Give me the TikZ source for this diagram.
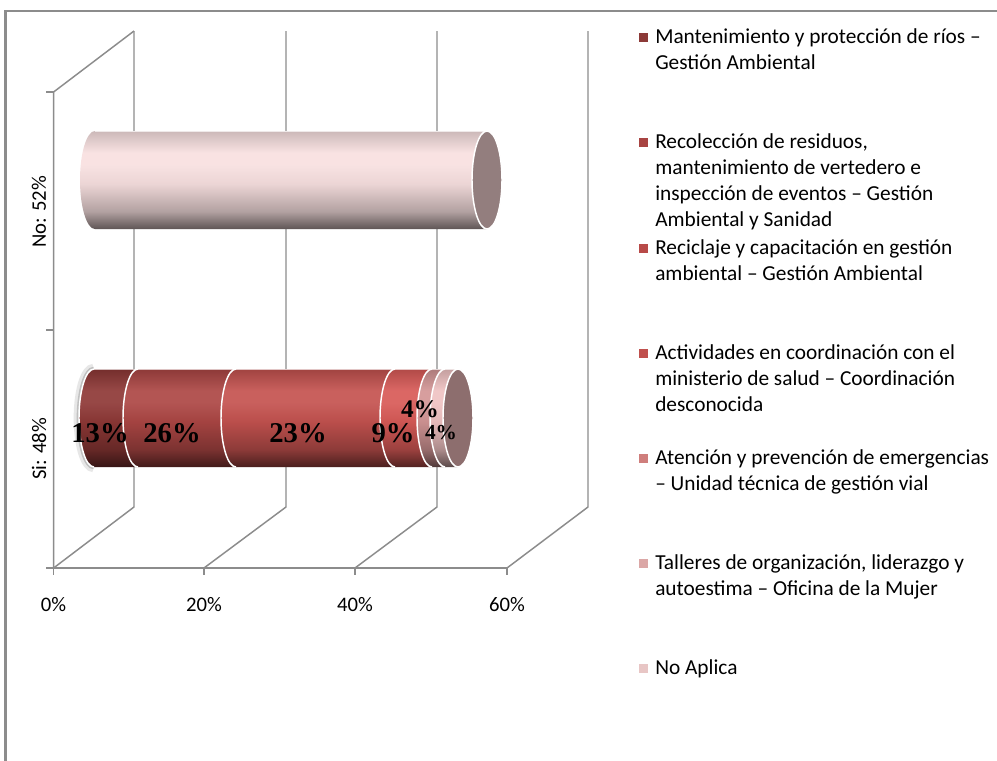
\documentclass[tikz,border=0pt]{standalone}
\usepackage{fontspec}
\setmainfont{Carlito}
\newfontfamily\labfont{Liberation Serif}
\definecolor{gridc}{HTML}{8C8C8C}
\definecolor{sA}{HTML}{8E3836}
\definecolor{sB}{HTML}{AC4644}
\definecolor{sC}{HTML}{C4524F}
\definecolor{sD}{HTML}{D85A57}
\definecolor{sE}{HTML}{D39696}
\definecolor{sF}{HTML}{EFC2C2}
\definecolor{sNo}{HTML}{F8E0E0}
\definecolor{capSi}{HTML}{8D6E6E}
\definecolor{capNo}{HTML}{937E7E}
\definecolor{lA}{HTML}{8C3A38}
\definecolor{lB}{HTML}{A84442}
\definecolor{lC}{HTML}{B84A48}
\definecolor{lD}{HTML}{C0504D}
\definecolor{lE}{HTML}{CF7E7C}
\definecolor{lF}{HTML}{DBA7A6}
\definecolor{lG}{HTML}{E8C6C5}
\colorlet{cylA}{black}\colorlet{cylB}{black}\colorlet{cylC}{black}\colorlet{cylD}{black}\colorlet{cylE}{black}
\pgfdeclareverticalshading[cylA,cylB,cylC,cylE,cylD]{cylshade}{100bp}{color(0bp)=(cylD); color(25bp)=(cylD); color(34bp)=(cylE); color(48bp)=(cylC); color(58bp)=(cylB); color(64bp)=(cylB); color(75bp)=(cylA); color(100bp)=(cylA)}
\newcommand\crx{11.25pt}
\newcommand\cry{36.75pt}
\newcommand\cylseg[4]{%
  \shade[cylcol=#4, shading=cylshade] (#1,#3-49) arc[start angle=90,end angle=270,x radius=\crx,y radius=\cry] -- (#2,#3+49) arc[start angle=270,end angle=90,x radius=\crx,y radius=\cry] -- cycle;}
\newcommand\cylbound[2]{%
  \draw[white, line width=1.1pt] (#1,#2-49) arc[start angle=90,end angle=270,x radius=\crx,y radius=\cry];}
\begin{document}
\begin{tikzpicture}[x=0.75pt,y=-0.75pt,
  grid/.style={draw=gridc, line width=1.1pt},
  frame/.style={draw=gridc, line width=1.6pt},
  ax/.style={font=\fontsize{15.5}{18}\selectfont, inner sep=0},
  leg/.style={anchor=base west, inner sep=0, font=\fontsize{16}{19}\selectfont},
  val/.style={font=\labfont\bfseries\fontsize{21.5}{24}\selectfont, inner sep=0},
  cylcol/.code={\colorlet{cylA}{#1!82!black}\colorlet{cylB}{#1!92!white}\colorlet{cylC}{#1!95!black}\colorlet{cylE}{#1!72!black}\colorlet{cylD}{#1!38!black}}]
\useasboundingbox (0,0) rectangle (997,761);
\fill[white] (0,0) rectangle (997,761);
% frame
\draw[frame] (5.5,761) -- (5.5,11) -- (997,11);
% 3D walls
\coordinate (f0) at (53.6,568); \coordinate (f1) at (204,568);
\coordinate (f2) at (355,568); \coordinate (f3) at (507,568);
\coordinate (b0) at (134,507); \coordinate (b1) at (286,507);
\coordinate (b2) at (437,507); \coordinate (b3) at (588,507);
\coordinate (t0) at (134,31); \coordinate (t1) at (286,31);
\coordinate (t2) at (437,31); \coordinate (t3) at (588,31);
\coordinate (ft) at (53.6,92); \coordinate (fm) at (53.6,330);
\draw[grid] (t0) -- (b0) -- (f0);
\draw[grid] (t1) -- (b1) -- (f1);
\draw[grid] (t2) -- (b2) -- (f2);
\draw[grid] (t3) -- (b3) -- (f3);
\draw[grid] (f0) -- (ft) -- (t0);
\draw[grid] (46,568) -- (f3);
\draw[grid] (46,92) -- (ft);
\draw[grid] (46,330) -- (fm);
\foreach \p in {f0,f1,f2,f3} \draw[grid] (\p) -- ++(0,7);
% axis labels
\node[ax] (x0) at (53.6,605) {0\%};
\node[ax] (x20) at (204,605) {20\%};
\node[ax] (x40) at (355,605) {40\%};
\node[ax] (x60) at (507,605) {60\%};
\node[ax, rotate=90] (yno) at (39,212) {No: 52\%};
\node[ax, rotate=90] (ysi) at (39,449) {Si: 48\%};
% No bar
\cylseg{95}{487}{180}{sNo}
\draw[white, line width=0.6pt, opacity=0.7] (95,131) -- (487,131);
\fill[capNo] (487,180) ellipse [x radius=\crx, y radius=\cry];
\draw[white, line width=1.1pt] (487,180) ellipse [x radius=\crx, y radius=\cry];
% Si bar glow
\draw[black!18, line width=8pt, opacity=0.5] (94,369) arc[start angle=90,end angle=270,x radius=\crx,y radius=\cry];
\draw[black!35, line width=3.5pt, opacity=0.6] (94,369) arc[start angle=90,end angle=270,x radius=\crx,y radius=\cry];
% Si bar segments
\cylseg{94}{138}{418}{sA}
\cylseg{138}{236}{418}{sB}
\cylseg{236}{395}{418}{sC}
\cylseg{395}{432}{418}{sD}
\cylseg{432}{445}{418}{sE}
\cylseg{445}{458}{418}{sF}
\draw[white, line width=0.6pt, opacity=0.7] (94,369) -- (458,369);
\cylbound{94}{418}
\cylbound{138}{418}
\cylbound{236}{418}
\cylbound{395}{418}
\cylbound{432}{418}
\cylbound{445}{418}
\fill[capSi] (458,418) ellipse [x radius=\crx, y radius=\cry];
\draw[white, line width=1.1pt] (458,418) ellipse [x radius=\crx, y radius=\cry];
% values
\node[val] (v13) at (100,433) {13\%};
\node[val] (v26) at (172,433) {26\%};
\node[val] (v23) at (298,433) {23\%};
\node[val] (v9) at (393,433) {9\%};
\node[val, font=\labfont\bfseries\fontsize{19}{22}\selectfont] (v4a) at (420,409) {4\%};
\node[val, font=\labfont\bfseries\fontsize{16}{19}\selectfont] (v4b) at (441,433) {4\%};
% legend
\fill[lA] (639,32.5) rectangle (648,41.5);
\node[leg] (l1a) at (655,43) {Mantenimiento y protección de ríos –};
\node[leg] (l1b) at (655,69) {Gestión Ambiental};
\fill[lB] (639,138) rectangle (648,147);
\node[leg] (l2a) at (655,148) {Recolección de residuos,};
\node[leg] (l2b) at (655,174) {mantenimiento de vertedero e};
\node[leg] (l2c) at (655,200) {inspección de eventos – Gestión};
\node[leg] (l2d) at (655,226) {Ambiental y Sanidad};
\fill[lC] (639,243.5) rectangle (648,252.5);
\node[leg] (l3a) at (655,254) {Reciclaje y capacitación en gestión};
\node[leg] (l3b) at (655,280) {ambiental – Gestión Ambiental};
\fill[lD] (639,348.5) rectangle (648,357.5);
\node[leg] (l4a) at (655,359) {Actividades en coordinación con el};
\node[leg] (l4b) at (655,385) {ministerio de salud – Coordinación};
\node[leg] (l4c) at (655,411) {desconocida};
\fill[lE] (639,453.5) rectangle (648,462.5);
\node[leg] (l5a) at (655,464) {Atención y prevención de emergencias};
\node[leg] (l5b) at (655,490) {– Unidad técnica de gestión vial};
\fill[lF] (639,558.5) rectangle (648,567.5);
\node[leg] (l6a) at (655,569) {Talleres de organización, liderazgo y};
\node[leg] (l6b) at (655,595) {autoestima – Oficina de la Mujer};
\fill[lG] (639,663.5) rectangle (648,672.5);
\node[leg] (l7a) at (655,674) {No Aplica};
\end{tikzpicture}
\end{document}
